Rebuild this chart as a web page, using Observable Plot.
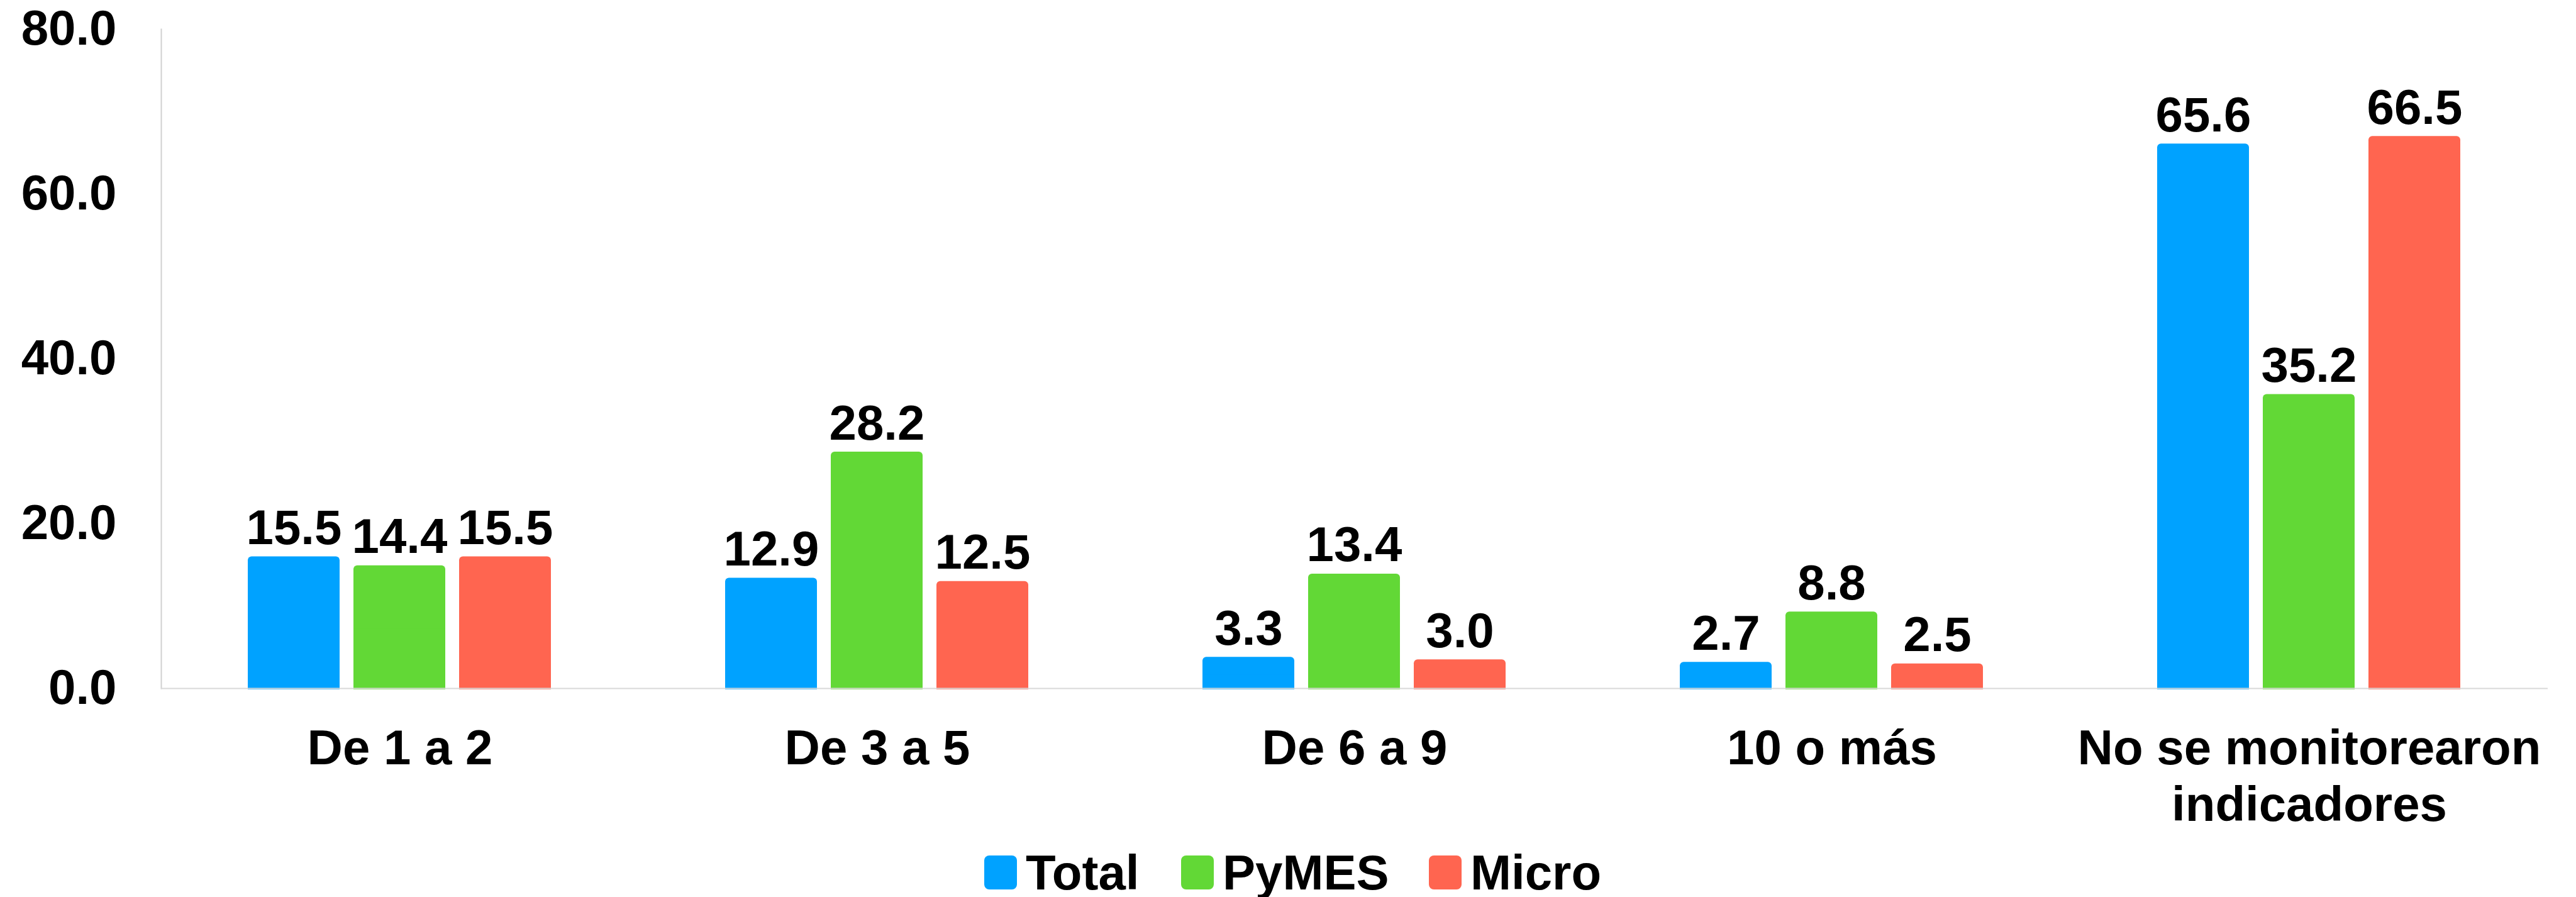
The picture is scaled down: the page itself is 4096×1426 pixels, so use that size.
<!DOCTYPE html>
<html>
<head>
<meta charset="utf-8">
<script src="https://cdn.jsdelivr.net/npm/d3@7"></script>
<script src="https://cdn.jsdelivr.net/npm/@observablehq/plot@0.6"></script>
<style>
  html, body { margin: 0; padding: 0; background: #fff; overflow: hidden; }
  body { font-family: "Liberation Sans", Arial, sans-serif; font-weight: bold; }
  #legend { position: relative; height: 78px; margin-top: 8px; font-size: 78px; line-height: 78px; color: #000; }
  #legend .item { position: absolute; top: 0; white-space: nowrap; }
  #legend .sw { display: inline-block; width: 52px; height: 54px; border-radius: 8px; margin-right: 14px; }
</style>
</head>
<body>
<div id="chart"></div>
<div id="legend"></div>
<script>
const categories = ["De 1 a 2", "De 3 a 5", "De 6 a 9", "10 o más", "No se monitorearon\nindicadores"];
const series = ["Total", "PyMES", "Micro"];
const totalValues = [15.5, 12.9, 3.3, 2.7, 65.6];
const pymesValues = [14.4, 28.2, 13.4, 8.8, 35.2];
const microValues = [15.5, 12.5, 3.0, 2.5, 66.5];
const seriesColors = ["#00A2FF", "#62D836", "#FF6550"];
const yTicks = [0, 20, 40, 60, 80];

const seriesValues = [totalValues, pymesValues, microValues];
const data = categories.flatMap((c, i) =>
  series.map((s, j) => ({category: c, series: s, value: seriesValues[j][i]}))
);

const FONT = "Liberation Sans, Arial, sans-serif";

const chart = Plot.plot({
  width: 4096,
  height: 1340,
  marginLeft: 255,
  marginRight: 44,
  marginTop: 46,
  marginBottom: 246,
  style: {fontFamily: FONT, fontSize: "78px", fontWeight: "bold", color: "#000", background: "#fff", display: "block"},
  fx: {domain: categories, padding: 0, label: null},
  x: {domain: series, paddingInner: 0.128, paddingOuter: 0.822, axis: null},
  y: {domain: [0, 80], label: null},
  color: {domain: series, range: seriesColors},
  marks: [
    Plot.axisY({ticks: yTicks, tickFormat: d3.format(".1f"), tickSize: 0, tickPadding: 71,
      fontSize: 78, fontWeight: "bold", fontFamily: FONT, label: null}),
    Plot.axisFx({anchor: "bottom", tickSize: 0, tickPadding: 57, fontSize: 78, fontWeight: "bold", fontFamily: FONT,
      lineHeight: 1.15, label: null}),
    Plot.frame({anchor: "left", facet: "super", stroke: "#d0d0d0", strokeWidth: 2}),
    Plot.barY(data, {fx: "category", x: "series", y: "value", fill: "series", rx: 6, insetTop: -6.5, insetBottom: -2}),
    Plot.barY(data, {fx: "category", x: "series", y: d => d.value / 2, fill: "series", insetBottom: -2}),
    Plot.ruleY([0], {stroke: "#d9d9d9", strokeWidth: 2.2}),
    Plot.text(data, {fx: "category", x: "series", y: "value", text: d => d3.format(".1f")(d.value),
      dy: -26.5, lineAnchor: "bottom", fontSize: 78, fontWeight: "bold", fontFamily: FONT, fill: "#000"})
  ]
});
document.getElementById("chart").appendChild(chart);

const legend = document.getElementById("legend");
const legendLeft = [1565, 1878, 2272];
series.forEach((s, i) => {
  const item = document.createElement("span");
  item.className = "item";
  item.style.left = legendLeft[i] + "px";
  const sw = document.createElement("span");
  sw.className = "sw";
  sw.style.background = seriesColors[i];
  item.appendChild(sw);
  item.appendChild(document.createTextNode(s));
  legend.appendChild(item);
});
</script>
</body>
</html>
